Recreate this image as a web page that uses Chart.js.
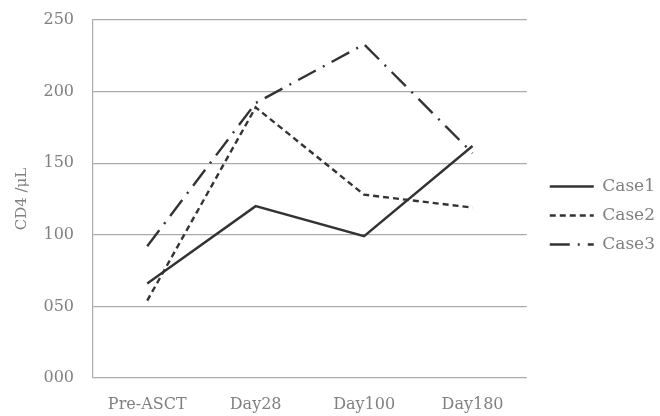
<!DOCTYPE html>
<html lang="en">
<head>
  <meta charset="UTF-8">
  <title>CD4 counts</title>
  <script src="https://cdn.jsdelivr.net/npm/chart.js"></script>
  <style>
    html, body { margin: 0; padding: 0; background: #fff; }
    #wrap { width: 660px; height: 416px; }
  </style>
</head>
<body>
<div id="wrap"><canvas id="cd4Chart" width="660" height="416"></canvas></div>
<script>
const timepoints = ['Pre-ASCT', 'Day28', 'Day100', 'Day180'];
const case1 = [66, 120, 99, 162];
const case2 = [54, 189, 128, 119];
const case3 = [92, 192, 233, 157];
const yTicks = [0, 50, 100, 150, 200, 250];

const lineColor = '#333';
const textColor = '#808080';
const serif = "'DejaVu Serif', 'Liberation Serif', serif";

function series(label, values, dash) {
  return {
    label: label,
    data: values,
    borderColor: lineColor,
    backgroundColor: lineColor,
    borderWidth: 2.4,
    borderDash: dash,
    pointRadius: 0,
    pointStyle: 'line',
    tension: 0,
    fill: false
  };
}

// move the legend a little right/down, away from the plot like the original
const legendNudge = {
  id: 'legendNudge',
  afterLayout(chart) {
    chart.legend.left += 11;
    chart.legend.top += 15;
  }
};

new Chart(document.getElementById('cd4Chart'), {
  type: 'line',
  data: {
    labels: timepoints,
    datasets: [
      series('Case1', case1, []),
      series('Case2', case2, [6, 4]),
      series('Case3', case3, [20, 8, 2, 8])
    ]
  },
  plugins: [legendNudge],
  options: {
    responsive: false,
    animation: false,
    layout: { padding: { top: 0, right: 6, bottom: 0, left: 0 } },
    plugins: {
      tooltip: { enabled: false },
      legend: {
        position: 'right',
        labels: {
          usePointStyle: true,
          pointStyleWidth: 44,
          boxHeight: 14,
          padding: 12,
          color: textColor,
          font: { family: serif, size: 17 },
          generateLabels: chart => chart.data.datasets.map((ds, i) => ({
            text: ds.label,
            fontColor: textColor,
            strokeStyle: ds.borderColor,
            fillStyle: ds.borderColor,
            lineWidth: ds.borderWidth,
            lineDash: ds.borderDash,
            pointStyle: 'line',
            hidden: false,
            datasetIndex: i
          }))
        }
      }
    },
    scales: {
      x: {
        offset: true,
        grid: { display: false },
        border: { display: false },
        ticks: { color: textColor, font: { family: serif, size: 16 }, padding: 9, maxRotation: 0 },
        afterFit: s => { s.height = 38; s.paddingLeft = 0; s.paddingRight = 0; }
      },
      y: {
        min: 0,
        max: 250,
        afterBuildTicks: axis => { axis.ticks = yTicks.map(v => ({ value: v })); },
        afterFit: s => { s.width = 93; s.paddingTop = 20; s.paddingBottom = 0; },
        grid: { color: '#aaa', lineWidth: 1.2, drawTicks: false },
        border: { display: true, color: '#aaa', width: 1.2 },
        ticks: {
          color: textColor,
          font: { family: serif, size: 16 },
          padding: 19,
          callback: v => String(v).padStart(3, '0')
        },
        title: {
          display: true,
          text: 'CD4 /μL',
          color: textColor,
          padding: { top: 13, bottom: 0 },
          font: { family: serif, size: 15 }
        }
      }
    }
  }
});
</script>
</body>
</html>
